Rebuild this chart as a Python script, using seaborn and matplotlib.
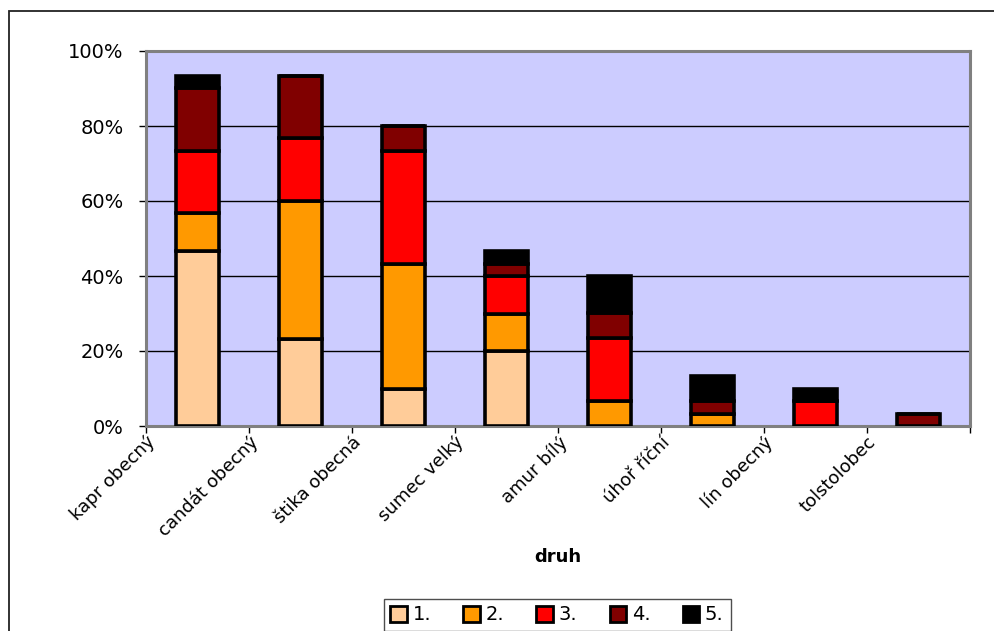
import numpy as np
import pandas as pd
import matplotlib
matplotlib.use("Agg")
import matplotlib.pyplot as plt
from matplotlib.patches import Rectangle, Patch
import seaborn as sns

categories = ["kapr obecný", "candát obecný", "štika obecná", "sumec velký",
              "amur bílý", "úhoř říční", "lín obecný", "tolstolobec"]
series_names = ["1.", "2.", "3.", "4.", "5."]
s1 = [46.7, 23.3, 10.0, 20.0, 0.0, 0.0, 0.0, 0.0]
s2 = [10.0, 36.7, 33.3, 10.0, 6.7, 3.3, 0.0, 0.0]
s3 = [16.7, 16.7, 30.0, 10.0, 16.7, 0.0, 6.7, 0.0]
s4 = [16.7, 16.7, 6.7, 3.3, 6.7, 3.3, 0.0, 3.3]
s5 = [3.3, 0.0, 0.0, 3.3, 10.0, 6.7, 3.3, 0.0]
yticks = [0, 20, 40, 60, 80, 100]
colors = ["#FFCC99", "#FF9900", "#FF0000", "#800000", "#000000"]

sns.set_theme(style="white")
plt.rcParams['font.family'] = ['Liberation Sans Narrow', 'DejaVu Sans']
plt.rcParams['text.color'] = 'black'
plt.rcParams['xtick.color'] = 'black'
plt.rcParams['ytick.color'] = 'black'

W, H = 994, 631
fig = plt.figure(figsize=(W / 100, H / 100), dpi=100)
fig.patch.set_facecolor("white")

# outer chart frame
fig.add_artist(Rectangle((9 / W, -0.1), 1.2, (H - 11) / H + 0.1, transform=fig.transFigure,
                         fill=False, edgecolor="#222222", linewidth=1.3))

ax = fig.add_axes([146 / W, (H - 426) / H, (970 - 146) / W, (426 - 51) / H])
ax.set_facecolor("#CCCCFF")

series = [s1, s2, s3, s4, s5]
bottom = np.zeros(len(categories))
for name, vals, col in zip(series_names, series, colors):
    vals = np.array(vals)
    d = pd.DataFrame({"cat": categories, "val": vals})
    sns.barplot(data=d, x="cat", y="val", ax=ax, color=col, width=0.42,
                bottom=bottom, edgecolor="black", linewidth=2.6, saturation=1,
                zorder=3)
    bottom = bottom + vals

ax.set_xlim(-0.5, len(categories) - 0.5)
ax.set_ylim(0, 100)
ax.set_yticks(yticks)
ax.set_yticklabels([f"{v}%" for v in yticks], fontsize=14, family="DejaVu Sans")
ax.yaxis.grid(True, color="black", linewidth=1.0, zorder=1)
ax.set_axisbelow(True)

pos = np.arange(len(categories)) - 0.5
ax.set_xticks(list(pos) + [len(categories) - 0.5])
ax.set_xticklabels(categories + [""], rotation=45, ha="right", va="top",
                   rotation_mode="anchor", fontsize=13)
ax.tick_params(axis="both", which="major", direction="out", length=5, width=1,
               color="black", bottom=True, left=True)
ax.tick_params(axis="y", pad=11)
ax.tick_params(axis="x", pad=0)
for sp in ax.spines.values():
    sp.set_visible(True)
    sp.set_color("#808080")
    sp.set_linewidth(2.2)

ax.set_xlabel("")
ax.set_ylabel("")
fig.text(558 / W, (H - 557) / H, "druh", fontsize=13, fontweight="bold",
         family="DejaVu Sans", ha="center", va="center")

handles = [Patch(facecolor=c, edgecolor="black", linewidth=2) for c in colors]
leg = fig.legend(handles, series_names, loc="center", bbox_to_anchor=(557 / W, (H - 615) / H),
                 ncol=5, frameon=True, fancybox=False, handlelength=0.85,
                 handleheight=0.85, handletextpad=0.3, columnspacing=1.65,
                 prop={"family": "DejaVu Sans", "size": 14}, borderpad=0.35)
leg.get_frame().set_edgecolor("#222222")
leg.get_frame().set_linewidth(1.0)

fig.savefig("out.png", dpi=100)
